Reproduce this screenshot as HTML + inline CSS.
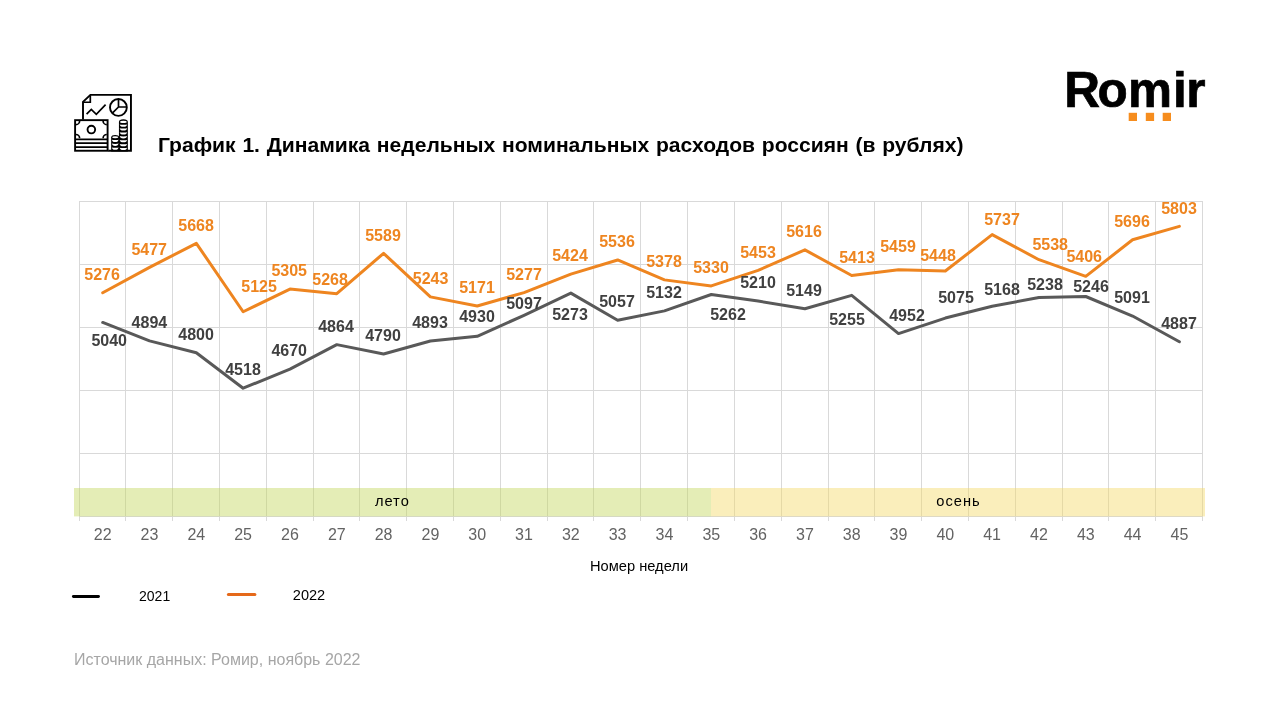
<!DOCTYPE html>
<html lang="ru">
<head>
<meta charset="utf-8">
<title>График 1. Динамика недельных номинальных расходов россиян (в рублях)</title>
<style>
html,body{margin:0;padding:0;background:#fff;}
body{width:1280px;height:720px;overflow:hidden;position:relative;font-family:"Liberation Sans",sans-serif;}
svg{position:absolute;left:0;top:0;display:block;}
text{font-family:"Liberation Sans",sans-serif;}
.t{font-weight:700;font-size:20px;word-spacing:0.85px;fill:#000;}
.ax{font-size:16px;fill:#636363;text-anchor:middle;}
.v22{font-size:16px;font-weight:700;fill:#EE8520;text-anchor:middle;}
.v21{font-size:16px;font-weight:700;fill:#404040;text-anchor:middle;}
.band{font-size:14.67px;fill:#000;letter-spacing:1px;}
.axt{font-size:14.67px;fill:#000;}
.lg{font-size:15.4px;fill:#000;}
.src{font-size:16px;fill:#A6A6A6;}
.logo{font-size:49.5px;font-weight:700;fill:#000;stroke:#000;stroke-width:0.7px;stroke-linejoin:miter;}
</style>
</head>
<body>
<svg width="1280" height="720" viewBox="0 0 1280 720">
<rect width="1280" height="720" fill="#fff"/>

<!--ICON-->
<g id="icon" fill="none" stroke="#000" stroke-width="1.9" stroke-linejoin="miter" stroke-linecap="butt">
<!-- document -->
<path d="M83 119.4 V101.9 L90.4 94.85 H130.95 V150.75 H108.2"/>
<path d="M90.3 95.2 V102.25 H83.2" stroke-width="1.7"/>
<!-- line chart -->
<path d="M86.6 114.2 L91.3 109.4 L96.3 114.4 L105.6 104.7" stroke-width="1.7"/>
<!-- pie chart -->
<circle cx="118.4" cy="107.45" r="8.4"/>
<path d="M118.5 99 V107 H126.8 M118.5 107 L112.6 112.9" stroke-width="1.7"/>
<!-- banknote -->
<rect x="75.1" y="120.15" width="32.5" height="30.6"/>
<path d="M79.6 120.9 A3.7 3.7 0 0 1 75.9 124.6 M103.1 120.9 A3.7 3.7 0 0 0 106.8 124.6 M75.9 134.5 A3.7 3.7 0 0 1 79.6 138.2 M106.8 134.5 A3.7 3.7 0 0 0 103.1 138.2" stroke-width="1.7"/>
<circle cx="91.35" cy="129.6" r="3.8"/>
<path d="M75.1 139.3 H107.6 M75.1 143.2 H107.6 M75.1 147.1 H107.6" stroke-width="1.8"/>
<!-- coins -->
<g stroke="none">
<path fill="#000" d="M111.17 137.3 A4.03 2.4 0 0 1 119.2 137.3 V151.6 H111.17 Z"/>
<path fill="#000" d="M118.94 122 A4.45 2.67 0 0 1 127.84 122 V151.6 H118.94 Z"/>
<ellipse fill="#fff" cx="123.4" cy="121.9" rx="3.35" ry="1.15"/>
<ellipse fill="#fff" cx="115.2" cy="137.2" rx="3.05" ry="0.95"/>
<path fill="#fff" d="M119.75 124.15 A3.65 0.55 0 0 0 127.05 124.15 A3.65 2.55 0 0 1 119.75 124.15 Z M119.75 128.05 A3.65 0.55 0 0 0 127.05 128.05 A3.65 2.55 0 0 1 119.75 128.05 Z M119.75 131.95 A3.65 0.55 0 0 0 127.05 131.95 A3.65 2.55 0 0 1 119.75 131.95 Z M119.75 135.85 A3.65 0.55 0 0 0 127.05 135.85 A3.65 2.55 0 0 1 119.75 135.85 Z M119.75 139.75 A3.65 0.55 0 0 0 127.05 139.75 A3.65 2.55 0 0 1 119.75 139.75 Z M119.75 143.65 A3.65 0.55 0 0 0 127.05 143.65 A3.65 2.55 0 0 1 119.75 143.65 Z M119.75 147.50 A3.65 0.55 0 0 0 127.05 147.50 A3.65 2.55 0 0 1 119.75 147.50 Z"/>
<path fill="#fff" d="M111.95 139.45 A3.25 0.55 0 0 0 118.45 139.45 A3.25 2.55 0 0 1 111.95 139.45 Z M111.95 143.35 A3.25 0.55 0 0 0 118.45 143.35 A3.25 2.55 0 0 1 111.95 143.35 Z M111.95 147.25 A3.25 0.55 0 0 0 118.45 147.25 A3.25 2.55 0 0 1 111.95 147.25 Z"/>
</g>
</g>
<g id="logo"><text class="logo" x="1064.2 1097.6 1127.9 1172.9 1186.2" y="106.9">Romir</text>
<rect x="1128.7" y="112.8" width="8.3" height="8.2" fill="#F68D1E"/>
<rect x="1145.8" y="112.8" width="8.3" height="8.2" fill="#F68D1E"/>
<rect x="1162.7" y="112.8" width="8.3" height="8.2" fill="#F68D1E"/>
</g>
<text class="t" transform="translate(157.9 151.8) scale(1.055 1)">График 1. Динамика недельных номинальных расходов россиян (в рублях)</text>
<g stroke="#D9D9D9" stroke-width="1" shape-rendering="crispEdges">
<line x1="79.3" y1="201.5" x2="1202.8" y2="201.5"/>
<line x1="79.3" y1="264.5" x2="1202.8" y2="264.5"/>
<line x1="79.3" y1="327.5" x2="1202.8" y2="327.5"/>
<line x1="79.3" y1="390.5" x2="1202.8" y2="390.5"/>
<line x1="79.3" y1="453.5" x2="1202.8" y2="453.5"/>
<line x1="79.3" y1="516.5" x2="1202.8" y2="516.5"/>
<line x1="79.5" y1="201.5" x2="79.5" y2="521"/>
<line x1="125.5" y1="201.5" x2="125.5" y2="521"/>
<line x1="172.5" y1="201.5" x2="172.5" y2="521"/>
<line x1="219.5" y1="201.5" x2="219.5" y2="521"/>
<line x1="266.5" y1="201.5" x2="266.5" y2="521"/>
<line x1="313.5" y1="201.5" x2="313.5" y2="521"/>
<line x1="359.5" y1="201.5" x2="359.5" y2="521"/>
<line x1="406.5" y1="201.5" x2="406.5" y2="521"/>
<line x1="453.5" y1="201.5" x2="453.5" y2="521"/>
<line x1="500.5" y1="201.5" x2="500.5" y2="521"/>
<line x1="547.5" y1="201.5" x2="547.5" y2="521"/>
<line x1="593.5" y1="201.5" x2="593.5" y2="521"/>
<line x1="640.5" y1="201.5" x2="640.5" y2="521"/>
<line x1="687.5" y1="201.5" x2="687.5" y2="521"/>
<line x1="734.5" y1="201.5" x2="734.5" y2="521"/>
<line x1="781.5" y1="201.5" x2="781.5" y2="521"/>
<line x1="828.5" y1="201.5" x2="828.5" y2="521"/>
<line x1="874.5" y1="201.5" x2="874.5" y2="521"/>
<line x1="921.5" y1="201.5" x2="921.5" y2="521"/>
<line x1="968.5" y1="201.5" x2="968.5" y2="521"/>
<line x1="1015.5" y1="201.5" x2="1015.5" y2="521"/>
<line x1="1062.5" y1="201.5" x2="1062.5" y2="521"/>
<line x1="1108.5" y1="201.5" x2="1108.5" y2="521"/>
<line x1="1155.5" y1="201.5" x2="1155.5" y2="521"/>
<line x1="1202.5" y1="201.5" x2="1202.5" y2="521"/>
</g>
<rect x="74" y="488" width="637" height="28.4" fill="#C3D75D" fill-opacity="0.45"/>
<rect x="711" y="488" width="494" height="28.4" fill="#F4D968" fill-opacity="0.45"/>
<polyline points="102.71,322.46 149.52,340.86 196.33,352.70 243.14,388.23 289.96,369.08 336.77,344.64 383.58,353.96 430.39,340.98 477.21,336.32 524.02,315.28 570.83,293.10 617.64,320.32 664.46,310.87 711.27,294.49 758.08,301.04 804.89,308.73 851.71,295.37 898.52,333.55 945.33,318.05 992.14,306.33 1038.96,297.51 1085.77,296.50 1132.58,316.03 1179.39,341.74" fill="none" stroke="#595959" stroke-width="3" stroke-linejoin="round" stroke-linecap="round"/>
<polyline points="102.71,292.72 149.52,267.40 196.33,243.33 243.14,311.75 289.96,289.07 336.77,293.73 383.58,253.29 430.39,296.88 477.21,305.95 524.02,292.60 570.83,274.08 617.64,259.96 664.46,279.87 711.27,285.92 758.08,270.42 804.89,249.88 851.71,275.46 898.52,269.67 945.33,271.05 992.14,234.64 1038.96,259.71 1085.77,276.34 1132.58,239.80 1179.39,226.32" fill="none" stroke="#EE8520" stroke-width="3" stroke-linejoin="round" stroke-linecap="round"/>
<g class="v21">
<text x="109.2" y="346.2">5040</text>
<text x="149.4" y="328.2">4894</text>
<text x="196.1" y="340.2">4800</text>
<text x="243.0" y="375.0">4518</text>
<text x="289.2" y="356.2">4670</text>
<text x="336.0" y="332.0">4864</text>
<text x="383.0" y="341.4">4790</text>
<text x="430.0" y="328.0">4893</text>
<text x="477.0" y="322.0">4930</text>
<text x="524.0" y="309.0">5097</text>
<text x="570.0" y="320.0">5273</text>
<text x="617.0" y="307.0">5057</text>
<text x="664.0" y="298.0">5132</text>
<text x="728.0" y="320.0">5262</text>
<text x="758.0" y="288.0">5210</text>
<text x="804.0" y="296.0">5149</text>
<text x="847.0" y="325.0">5255</text>
<text x="907.0" y="321.2">4952</text>
<text x="956.0" y="303.0">5075</text>
<text x="1002.0" y="295.0">5168</text>
<text x="1045.0" y="290.0">5238</text>
<text x="1091.0" y="291.5">5246</text>
<text x="1132.0" y="303.0">5091</text>
<text x="1179.0" y="329.0">4887</text>
</g>
<g class="v22">
<text x="102.1" y="280.0">5276</text>
<text x="149.2" y="255.0">5477</text>
<text x="196.1" y="230.8">5668</text>
<text x="259.1" y="291.8">5125</text>
<text x="289.2" y="276.0">5305</text>
<text x="330.1" y="285.0">5268</text>
<text x="383.0" y="241.4">5589</text>
<text x="430.6" y="283.5">5243</text>
<text x="477.0" y="292.6">5171</text>
<text x="524.0" y="279.7">5277</text>
<text x="570.0" y="261.0">5424</text>
<text x="617.0" y="247.0">5536</text>
<text x="664.0" y="267.0">5378</text>
<text x="711.0" y="273.0">5330</text>
<text x="758.0" y="258.0">5453</text>
<text x="804.0" y="237.0">5616</text>
<text x="857.0" y="263.0">5413</text>
<text x="898.0" y="252.0">5459</text>
<text x="938.0" y="261.4">5448</text>
<text x="1002.0" y="225.0">5737</text>
<text x="1050.2" y="250.3">5538</text>
<text x="1084.2" y="262.0">5406</text>
<text x="1132.0" y="227.0">5696</text>
<text x="1179.0" y="214.0">5803</text>
</g>
<g class="ax">
<text x="102.7" y="540.3">22</text>
<text x="149.5" y="540.3">23</text>
<text x="196.3" y="540.3">24</text>
<text x="243.1" y="540.3">25</text>
<text x="290.0" y="540.3">26</text>
<text x="336.8" y="540.3">27</text>
<text x="383.6" y="540.3">28</text>
<text x="430.4" y="540.3">29</text>
<text x="477.2" y="540.3">30</text>
<text x="524.0" y="540.3">31</text>
<text x="570.8" y="540.3">32</text>
<text x="617.6" y="540.3">33</text>
<text x="664.5" y="540.3">34</text>
<text x="711.3" y="540.3">35</text>
<text x="758.1" y="540.3">36</text>
<text x="804.9" y="540.3">37</text>
<text x="851.7" y="540.3">38</text>
<text x="898.5" y="540.3">39</text>
<text x="945.3" y="540.3">40</text>
<text x="992.1" y="540.3">41</text>
<text x="1039.0" y="540.3">42</text>
<text x="1085.8" y="540.3">43</text>
<text x="1132.6" y="540.3">44</text>
<text x="1179.4" y="540.3">45</text>
</g>
<text class="band" x="374.9" y="505.7">лето</text>
<text class="band" x="936.3" y="505.7">осень</text>
<text class="axt" x="590" y="570.7">Номер недели</text>
<line x1="73.4" y1="596.5" x2="98.5" y2="596.5" stroke="#000" stroke-width="2.9" stroke-linecap="round"/>
<text class="lg" x="139" y="600.9" textLength="31.2" lengthAdjust="spacingAndGlyphs">2021</text>
<line x1="228.4" y1="594.5" x2="254.9" y2="594.5" stroke="#E5691A" stroke-width="3" stroke-linecap="round"/>
<text class="lg" x="292.8" y="599.9" textLength="32.4" lengthAdjust="spacingAndGlyphs">2022</text>
<text class="src" x="74" y="665">Источник данных: Ромир, ноябрь 2022</text>
</svg>
</body>
</html>
